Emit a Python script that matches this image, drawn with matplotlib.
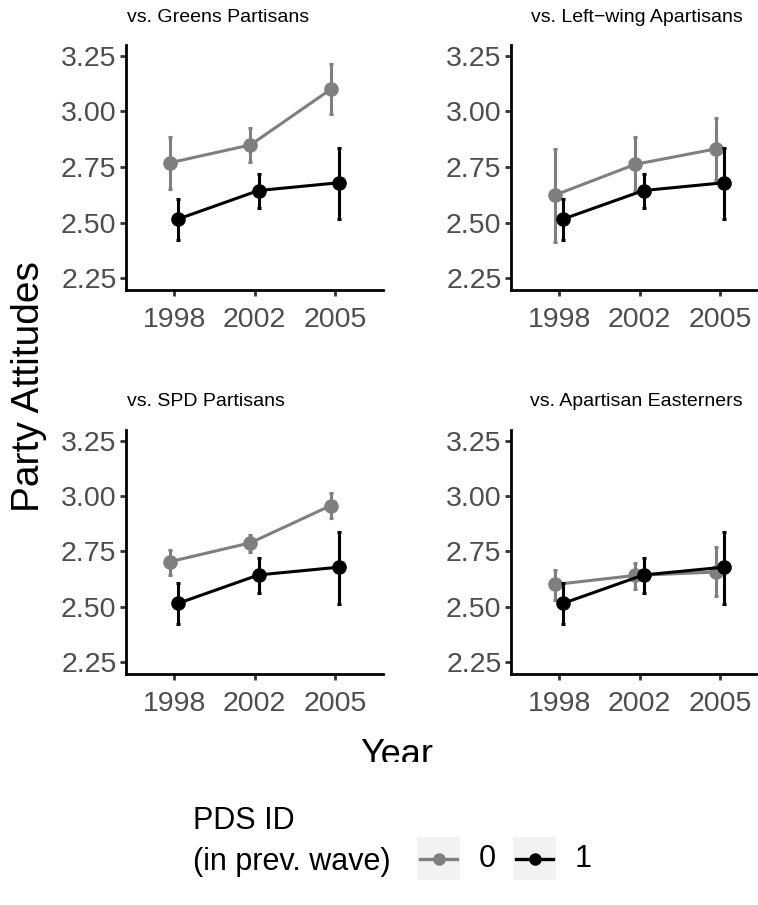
import matplotlib
matplotlib.use("Agg")
import matplotlib.pyplot as plt
from matplotlib.patches import Rectangle
from matplotlib.lines import Line2D
from matplotlib.transforms import Bbox, TransformedBbox
import numpy as np

plt.rcParams['font.family'] = ['Liberation Sans', 'DejaVu Sans']

# ---- data -------------------------------------------------------------
years = ["1998", "2002", "2005"]
groups = ["0", "1"]

panel_titles = ["vs. Greens Partisans", "vs. Left\u2212wing Apartisans",
                "vs. SPD Partisans", "vs. Apartisan Easterners"]

# PDS identifiers in previous wave (same in every panel)
pds_mean = [2.516, 2.644, 2.679]
pds_lo = [2.422, 2.564, 2.515]
pds_hi = [2.606, 2.720, 2.837]

# comparison groups (PDS ID = 0)
greens_mean = [2.769, 2.849, 3.099]
greens_lo = [2.650, 2.771, 2.987]
greens_hi = [2.885, 2.927, 3.211]

leftwing_mean = [2.624, 2.762, 2.831]
leftwing_lo = [2.414, 2.640, 2.690]
leftwing_hi = [2.830, 2.883, 2.971]

spd_mean = [2.704, 2.789, 2.957]
spd_lo = [2.645, 2.748, 2.899]
spd_hi = [2.757, 2.826, 3.014]

east_mean = [2.601, 2.642, 2.657]
east_lo = [2.533, 2.581, 2.548]
east_hi = [2.668, 2.700, 2.768]

y_ticks = [2.25, 2.50, 2.75, 3.00, 3.25]

comparisons = [
    (greens_mean, greens_lo, greens_hi),
    (leftwing_mean, leftwing_lo, leftwing_hi),
    (spd_mean, spd_lo, spd_hi),
    (east_mean, east_lo, east_hi),
]

# ---- layout (pixel based) --------------------------------------------
W, H = 758, 905
DPI = 100
fig = plt.figure(figsize=(W / DPI, H / DPI), dpi=DPI)

def fbox(left, top, right, bottom):
    return [left / W, 1 - bottom / H, (right - left) / W, (bottom - top) / H]

panels = [
    fbox(126, 45, 383, 290),
    fbox(511, 45, 768, 290),
    fbox(126, 430, 383, 674),
    fbox(511, 430, 768, 674),
]
title_pos = [(127, 18, "left"), (743, 18, "right"),
             (127, 401, "left"), (743, 401, "right")]

GREY = "#7F7F7F"
BLACK = "#000000"
TICK_COL = "#4D4D4D"
dodge = 0.05
x = np.arange(1, len(years) + 1)

def draw_series(ax, xs, mean, lo, hi, color, z):
    mean = np.asarray(mean)
    yerr = np.vstack([mean - np.asarray(lo), np.asarray(hi) - mean])
    ax.errorbar(xs, mean, yerr=yerr, fmt="none", ecolor=color,
                elinewidth=2.2, capsize=1.6, capthick=2.2, zorder=z)
    ax.plot(xs, mean, color=color, lw=2.2, zorder=z + 0.5)
    ax.plot(xs, mean, "o", color=color, ms=9.5, zorder=z + 1)

for i, (rect, (m, lo, hi)) in enumerate(zip(panels, comparisons)):
    ax = fig.add_axes(rect)
    draw_series(ax, x - dodge, m, lo, hi, GREY, 2)
    draw_series(ax, x + dodge, pds_mean, pds_lo, pds_hi, BLACK, 3)
    ax.set_xlim(0.4, 3.6)
    ax.set_ylim(2.197, 3.298)
    ax.set_xticks(x)
    ax.set_xticklabels(years)
    ax.set_yticks(y_ticks)
    ax.set_yticklabels([f"{v:.2f}" for v in y_ticks])
    for s in ["top", "right"]:
        ax.spines[s].set_visible(False)
    for s in ["left", "bottom"]:
        ax.spines[s].set_linewidth(2.0)
        ax.spines[s].set_color("black")
    ax.tick_params(axis="both", length=4.3, width=2.0, color="#333333",
                   labelsize=20.5, labelcolor=TICK_COL, pad=2.5)
    ax.tick_params(axis="x", pad=7.7)
    ax.set_facecolor("none")
    tx, ty, ha = title_pos[i]
    fig.text(tx / W, 1 - ty / H, panel_titles[i], ha=ha, va="center",
             fontsize=14, color="black")

# axis titles
fig.text(29 / W, 1 - 387 / H, "Party Attitudes", rotation=90,
         ha="center", va="center", fontsize=28)
year_txt = fig.text(397 / W, 1 - 765 / H, "Year", ha="center",
                    va="baseline", fontsize=26)
clip = TransformedBbox(Bbox([[0, (H - 762) / H], [1, 1]]), fig.transFigure)
year_txt.set_clip_box(clip)
year_txt.set_clip_on(True)

# legend
lax = fig.add_axes([0, 0, 1, 1])
lax.set_xlim(0, W)
lax.set_ylim(H, 0)
lax.axis("off")
lax.text(193, 821, "PDS ID", ha="left", va="center", fontsize=22)
lax.text(193, 862, "(in prev. wave)", ha="left", va="center", fontsize=22)
for kx, col, lab in [(417, GREY, groups[0]), (513, BLACK, groups[1])]:
    lax.add_patch(Rectangle((kx, 837), 43, 43, facecolor="#F2F2F2",
                            edgecolor="none"))
    lax.add_line(Line2D([kx + 3, kx + 40], [858.5, 858.5], color=col, lw=2.4))
    lax.plot([kx + 21.5], [858.5], "o", color=col, ms=8)
    lax.text(kx + 70, 858.5, lab, ha="center", va="center", fontsize=22)

fig.savefig("out.png", dpi=DPI)
